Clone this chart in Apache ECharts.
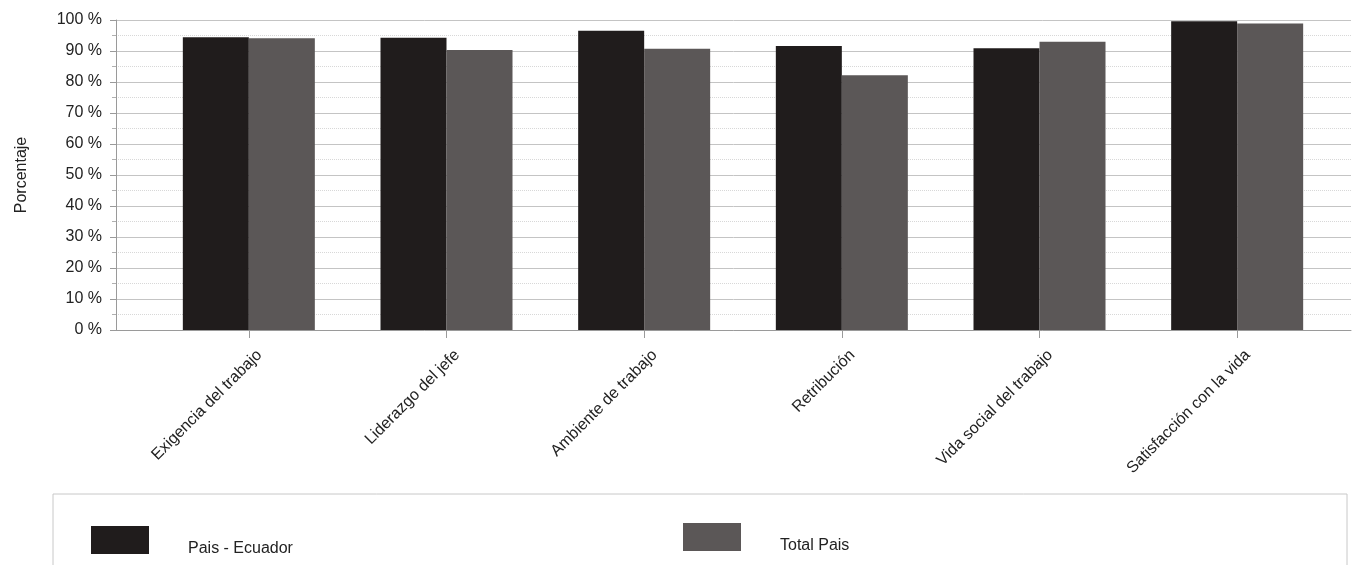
<!DOCTYPE html>
<html>
<head>
<meta charset="utf-8">
<title>Porcentaje por dimensión</title>
<script src="https://cdn.jsdelivr.net/npm/echarts@6/dist/echarts.min.js"></script>
<style>
    html, body { margin: 0; padding: 0; background: #fff; }
    #main { width: 1353px; height: 565px; }
</style>
</head>
<body>
<div id="main"></div>
<script>
// datos
var categorias = ['Exigencia del trabajo', 'Liderazgo del jefe', 'Ambiente de trabajo', 'Retribución', 'Vida social del trabajo', 'Satisfacción con la vida'];
var paisEcuador = [94.4, 94.3, 96.5, 91.6, 90.9, 99.6];
var totalPais = [94.1, 90.3, 90.7, 82.2, 93.0, 98.9];
var nombres = ['Pais - Ecuador', 'Total Pais'];

var fuente = "'Liberation Sans', Arial, sans-serif";

var myChart = echarts.init(document.getElementById('main'));

// el texto de la leyenda va un poco por debajo del cuadro
function textoLeyenda(name) {
    return '\n' + name;
}

let option = {
    color: ['#201c1c', '#5b5757'],
    textStyle: { fontFamily: fuente },

    // cuadro de la leyenda
    graphic: [{
        type: 'rect',
        shape: { x: 53, y: 494, width: 1294, height: 100 },
        style: { fill: 'none', stroke: '#c8c8c8', lineWidth: 1 },
        silent: true
    }],

    legend: [{
        data: [nombres[0]],
        left: 91,
        top: 522,
        padding: 0,
        icon: 'rect',
        itemWidth: 58,
        itemHeight: 28,
        itemStyle: { borderWidth: 0 },
        formatter: textoLeyenda,
        textStyle: { color: '#222', fontSize: 16, lineHeight: 18, fontFamily: fuente, padding: [0, 0, 0, 34] }
    }, {
        data: [nombres[1]],
        left: 683,
        top: 519,
        padding: 0,
        icon: 'rect',
        itemWidth: 58,
        itemHeight: 28,
        itemStyle: { borderWidth: 0 },
        formatter: textoLeyenda,
        textStyle: { color: '#222', fontSize: 16, lineHeight: 18, fontFamily: fuente, padding: [0, 0, 0, 34] }
    }],

    // grid 0: ejes y lineas, grid 1: barras
    grid: [
        { left: 116, right: 2, top: 20, bottom: 235, containLabel: false },
        { left: 150, right: 17, top: 20, bottom: 235, containLabel: false }
    ],

    xAxis: [{
        type: 'value',
        gridIndex: 0,
        min: 0,
        max: 1,
        axisLine: { show: true, lineStyle: { color: '#9a9a9a' } },
        axisTick: { show: false },
        axisLabel: { show: false },
        splitLine: { show: false }
    }, {
        type: 'category',
        gridIndex: 1,
        data: categorias,
        axisLine: { show: false },
        axisTick: { show: true, alignWithLabel: true, length: 8, lineStyle: { color: '#9a9a9a' } },
        axisLabel: {
            rotate: 45,
            margin: 12,
            verticalAlign: 'top',
            lineHeight: 30,
            fontSize: 16,
            color: '#222',
            fontFamily: fuente,
            interval: 0
        }
    }],

    yAxis: [{
        type: 'value',
        gridIndex: 0,
        min: 0,
        max: 100,
        interval: 10,
        name: 'Porcentaje',
        nameLocation: 'middle',
        nameGap: 86,
        nameTextStyle: { color: '#222', fontSize: 16, fontFamily: fuente },
        axisLine: { show: true, lineStyle: { color: '#9a9a9a' } },
        axisTick: { show: true, length: 6, lineStyle: { color: '#9a9a9a' } },
        minorTick: { show: true, splitNumber: 2, length: 4, lineStyle: { color: '#b0b0b0' } },
        axisLabel: {
            formatter: '{value} %',
            fontSize: 16,
            color: '#222',
            margin: 14,
            fontFamily: fuente
        },
        splitLine: { show: true, lineStyle: { color: '#c4c4c4', width: 1 } },
        minorSplitLine: { show: true, lineStyle: { color: '#d8d8d8', type: 'dotted' } }
    }, {
        type: 'value',
        gridIndex: 1,
        min: 0,
        max: 100,
        show: false,
        splitLine: { show: false }
    }],

    series: [{
        name: nombres[0],
        type: 'bar',
        xAxisIndex: 1,
        yAxisIndex: 1,
        barWidth: 66,
        barGap: '0%',
        data: paisEcuador
    }, {
        name: nombres[1],
        type: 'bar',
        xAxisIndex: 1,
        yAxisIndex: 1,
        barWidth: 66,
        barGap: '0%',
        data: totalPais
    }]
};

myChart.setOption(option);
</script>
</body>
</html>
